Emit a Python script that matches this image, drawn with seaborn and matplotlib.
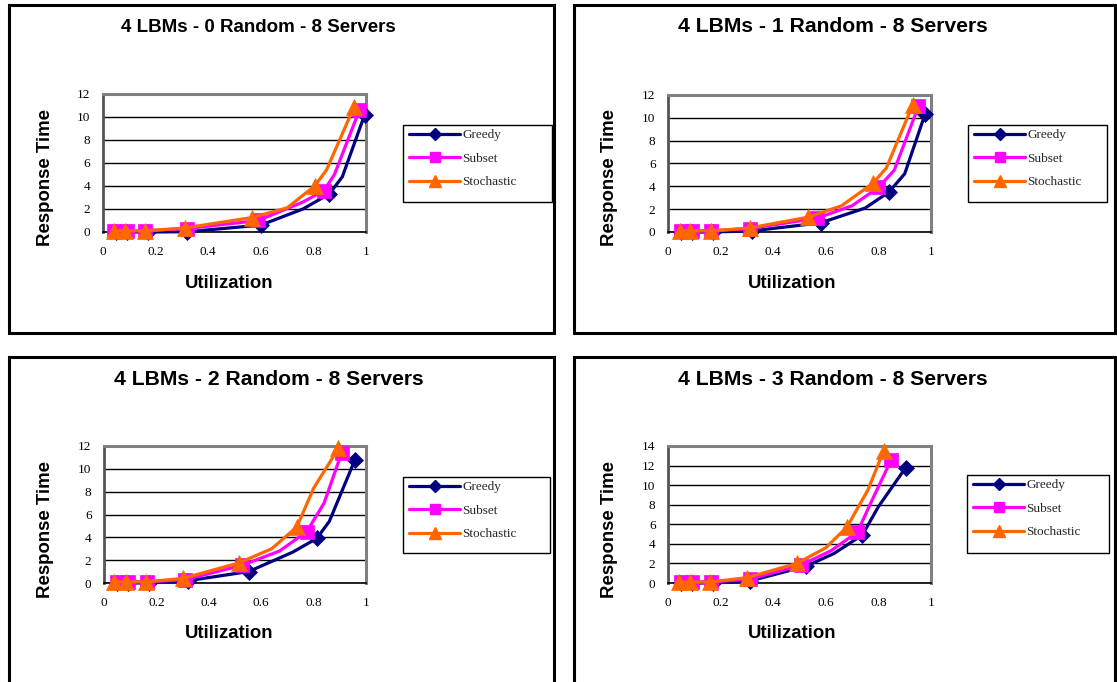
import matplotlib
matplotlib.use("Agg")
import matplotlib.pyplot as plt
from matplotlib.patches import Rectangle
from matplotlib.lines import Line2D
import seaborn as sns

W, H = 1117, 682

series_names = ["Greedy", "Subset", "Stochastic"]
random_lbms = [0, 1, 2, 3]
x_ticks = [0, 0.2, 0.4, 0.6, 0.8, 1]
x_tick_labels = ["0", "0.2", "0.4", "0.6", "0.8", "1"]

# Curve vertices (utilization, response time); measured points carry markers
measured = [0, 1, 2, 3, 4, 6, 8]

# 4 LBMs - 0 Random
greedy0_u = [0.05, 0.09, 0.17, 0.32, 0.60, 0.76, 0.86, 0.91, 0.995]
greedy0_t = [0.0, 0.0, 0.0, 0.02, 0.6, 2.0, 3.3, 4.8, 10.2]
subset0_u = [0.04, 0.09, 0.16, 0.32, 0.59, 0.76, 0.84, 0.88, 0.975]
subset0_t = [0.1, 0.1, 0.1, 0.3, 1.0, 2.6, 3.6, 5.0, 10.6]
stoch0_u = [0.04, 0.085, 0.16, 0.31, 0.565, 0.70, 0.805, 0.85, 0.955]
stoch0_t = [0.1, 0.1, 0.1, 0.35, 1.25, 2.1, 4.0, 5.4, 10.9]

# 4 LBMs - 1 Random
greedy1_u = [0.05, 0.09, 0.17, 0.32, 0.58, 0.75, 0.84, 0.90, 0.977]
greedy1_t = [0.0, 0.0, 0.0, 0.1, 0.8, 2.1, 3.5, 5.1, 10.3]
subset1_u = [0.05, 0.09, 0.165, 0.31, 0.565, 0.70, 0.80, 0.86, 0.952]
subset1_t = [0.1, 0.1, 0.1, 0.3, 1.2, 2.3, 3.9, 5.4, 11.0]
stoch1_u = [0.045, 0.085, 0.165, 0.31, 0.533, 0.66, 0.778, 0.83, 0.93]
stoch1_t = [0.1, 0.1, 0.1, 0.35, 1.3, 2.3, 4.25, 5.6, 11.1]

# 4 LBMs - 2 Random
greedy2_u = [0.05, 0.09, 0.17, 0.32, 0.552, 0.72, 0.812, 0.86, 0.958]
greedy2_t = [0.0, 0.0, 0.0, 0.2, 1.0, 2.7, 3.9, 5.4, 10.8]
subset2_u = [0.05, 0.09, 0.165, 0.31, 0.527, 0.67, 0.774, 0.84, 0.907]
subset2_t = [0.1, 0.1, 0.1, 0.3, 1.55, 2.8, 4.5, 7.0, 11.4]
stoch2_u = [0.04, 0.085, 0.16, 0.30, 0.514, 0.64, 0.736, 0.80, 0.895]
stoch2_t = [0.1, 0.1, 0.1, 0.4, 1.75, 3.0, 4.9, 8.3, 11.8]

# 4 LBMs - 3 Random
greedy3_u = [0.05, 0.09, 0.17, 0.31, 0.523, 0.63, 0.739, 0.80, 0.904]
greedy3_t = [0.0, 0.0, 0.0, 0.2, 1.7, 3.0, 4.9, 7.8, 11.8]
subset3_u = [0.05, 0.09, 0.165, 0.31, 0.504, 0.62, 0.72, 0.78, 0.849]
subset3_t = [0.1, 0.1, 0.1, 0.4, 1.8, 3.3, 5.2, 8.7, 12.6]
stoch3_u = [0.04, 0.085, 0.16, 0.30, 0.49, 0.60, 0.68, 0.76, 0.82]
stoch3_t = [0.1, 0.1, 0.1, 0.55, 2.0, 3.6, 5.7, 9.5, 13.5]

y_max = [12, 12, 12, 14]

panels = [
    [(greedy0_u, greedy0_t), (subset0_u, subset0_t), (stoch0_u, stoch0_t)],
    [(greedy1_u, greedy1_t), (subset1_u, subset1_t), (stoch1_u, stoch1_t)],
    [(greedy2_u, greedy2_t), (subset2_u, subset2_t), (stoch2_u, stoch2_t)],
    [(greedy3_u, greedy3_t), (subset3_u, subset3_t), (stoch3_u, stoch3_t)],
]

colors = ["#000080", "#FF00FF", "#FF6600"]
markers = ["D", "s", "^"]
msizes = [8.5, 10, 11.5]

sns.set_theme(style="white")
plt.rcParams["font.family"] = ["Liberation Sans", "DejaVu Sans"]

SANS = "Liberation Sans"
SERIF = "Liberation Serif"

fig = plt.figure(figsize=(W / 100, H / 100), dpi=100)
fig.patch.set_facecolor("white")


def fx(x):
    return x / W


def fy(y):
    return 1 - y / H


# panel layout in pixels: frame box, plot area, title, labels, legend box
layouts = [
    dict(box=(9, 5, 554, 333), ax=(103, 94, 366, 232), title=(258, 27), tsize=13.5,
         ylab=(46, 178), xlab=(229, 283), leg=(403, 125, 552, 202)),
    dict(box=(574, 5, 1115, 333), ax=(668, 95, 931, 232), title=(833, 27), tsize=15.2,
         ylab=(610, 178), xlab=(792, 283), leg=(968, 125, 1107, 202)),
    dict(box=(9, 357, 554, 700), ax=(104, 446, 366, 583), title=(269, 380), tsize=15.2,
         ylab=(46, 530), xlab=(229, 634), leg=(403, 477, 550, 553)),
    dict(box=(574, 357, 1115, 700), ax=(668, 446, 931, 583), title=(833, 380), tsize=15.2,
         ylab=(610, 530), xlab=(792, 634), leg=(967, 475, 1109, 553)),
]

for k, lay in enumerate(layouts):
    bx0, by0, bx1, by1 = lay["box"]
    fig.add_artist(Rectangle((fx(bx0), fy(by1)), fx(bx1 - bx0), (by1 - by0) / H,
                             transform=fig.transFigure, fill=False,
                             edgecolor="black", linewidth=2.2))

    ax0, ay0, ax1, ay1 = lay["ax"]
    ax = fig.add_axes([fx(ax0), fy(ay1), fx(ax1 - ax0), (ay1 - ay0) / H])
    ax.set_facecolor("white")

    for (u, t), name, c, m, ms in zip(panels[k], series_names, colors, markers, msizes):
        sns.lineplot(x=u, y=t, ax=ax, color=c, linewidth=2.3, marker=m,
                     markersize=ms, markevery=measured, markeredgecolor=c,
                     markeredgewidth=0.5, sort=False, legend=False,
                     clip_on=False, zorder=3)

    ax.set_xlim(0, 1)
    ax.set_ylim(0, y_max[k])
    ax.set_xticks(x_ticks)
    ax.set_xticklabels(x_tick_labels)
    ax.set_yticks(list(range(0, y_max[k] + 1, 2)))
    ax.yaxis.grid(True, color="black", linewidth=1.0)
    ax.xaxis.grid(False)
    ax.set_axisbelow(True)
    ax.tick_params(axis="both", direction="out", length=4, width=1, color="black",
                   labelsize=9.5, pad=5)
    for lbl in ax.get_xticklabels() + ax.get_yticklabels():
        lbl.set_fontfamily(SERIF)
        lbl.set_color("black")
    ax.tick_params(axis="x", pad=6)
    for side in ["top", "right"]:
        ax.spines[side].set_color("#808080")
        ax.spines[side].set_linewidth(2.2)
    ax.spines["left"].set_color("#555555")
    ax.spines["left"].set_linewidth(2.0)
    ax.spines["bottom"].set_color("black")
    ax.spines["bottom"].set_linewidth(1.2)
    ax.set_xlabel("")
    ax.set_ylabel("")

    fig.text(fx(lay["title"][0]), fy(lay["title"][1]),
             f"4 LBMs - {random_lbms[k]} Random - 8 Servers",
             ha="center", va="center", fontsize=lay["tsize"], fontweight="bold",
             fontfamily=SANS, color="black")
    fig.text(fx(lay["ylab"][0]), fy(lay["ylab"][1]), "Response Time", rotation=90,
             ha="center", va="center", fontsize=13.4, fontweight="bold",
             fontfamily=SANS, color="black")
    fig.text(fx(lay["xlab"][0]), fy(lay["xlab"][1]), "Utilization",
             ha="center", va="center", fontsize=13.4, fontweight="bold",
             fontfamily=SANS, color="black")

    lx0, ly0, lx1, ly1 = lay["leg"]
    fig.add_artist(Rectangle((fx(lx0), fy(ly1)), fx(lx1 - lx0), (ly1 - ly0) / H,
                             transform=fig.transFigure, fill=False,
                             edgecolor="black", linewidth=1.0))
    handles = [Line2D([], [], color=c, linewidth=2.3, marker=m, markersize=ms * 0.75,
                      markeredgecolor=c)
               for c, m, ms in zip(colors, markers, msizes)]
    fig.legend(handles, series_names, loc="upper left",
               bbox_to_anchor=(fx(lx0 + 6), fy(ly0 + 4)),
               bbox_transform=fig.transFigure, frameon=False,
               prop={"family": SERIF, "size": 9.5}, handlelength=3.9,
               handletextpad=0.15, labelspacing=0.85, borderpad=0,
               borderaxespad=0, numpoints=1)

fig.savefig("out.png", dpi=100, facecolor="white")
